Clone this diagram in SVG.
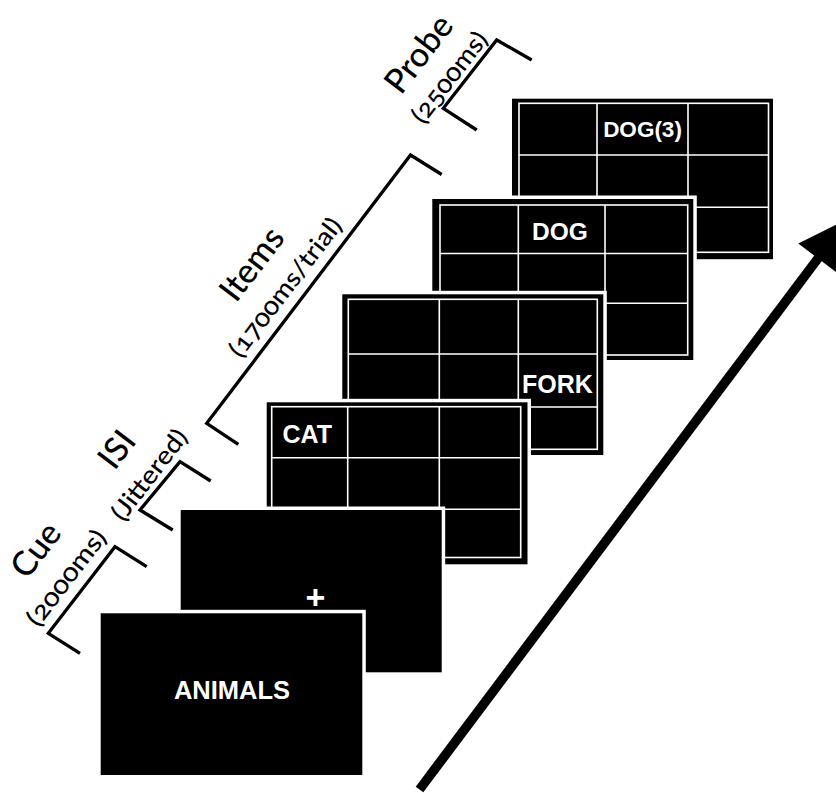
<svg xmlns="http://www.w3.org/2000/svg" width="836" height="793" viewBox="0 0 836 793">
<style>
.panel{fill:#000;stroke:#fff;stroke-width:7;paint-order:stroke}
.grid{fill:none;stroke:#fff;stroke-width:1.6}
.cell{font-family:"Liberation Sans",Arial,sans-serif;font-weight:bold;fill:#fff}
.br{fill:none;stroke:#000;stroke-width:3.3;stroke-linejoin:miter;stroke-linecap:butt}
.lbl{font-family:Lato,"Open Sans",sans-serif;font-weight:500;fill:#000;text-anchor:middle;font-variant-numeric:oldstyle-nums}
.big{font-size:34px}
.small{font-size:25px}
</style>
<rect width="836" height="793" fill="#fff"/>

<g id="probe-panel">
<rect class="panel" x="512" y="98.7" width="261" height="160.5"/>
<rect class="grid" x="519" y="103.3" width="249.5" height="149"/>
<path class="grid" d="M597 103.3V252.3M688 103.3V252.3M519 155H768.5M519 207.3H768.5"/>
<text class="cell" x="642.5" y="136.7" font-size="22.5" text-anchor="middle">DOG(3)</text>
</g>

<g id="dog-panel">
<rect class="panel" x="432.3" y="199" width="261" height="161"/>
<rect class="grid" x="440" y="205" width="247.7" height="150"/>
<path class="grid" d="M518.3 205V355M605 205V355M440 253.5H687.7M440 303.3H687.7"/>
<text class="cell" x="560" y="240" font-size="24.5" text-anchor="middle">DOG</text>
</g>

<g id="fork-panel">
<rect class="panel" x="342.3" y="294.3" width="261" height="160.7"/>
<rect class="grid" x="348.3" y="299.3" width="249" height="150"/>
<path class="grid" d="M439.3 299.3V449.3M518.3 299.3V449.3M348.3 354H597.3M348.3 407H597.3"/>
<text class="cell" x="557.5" y="392.7" font-size="25" text-anchor="middle">FORK</text>
</g>

<g id="cat-panel">
<rect class="panel" x="266.7" y="402.3" width="260.8" height="162"/>
<rect class="grid" x="271.7" y="406.7" width="249" height="150.8"/>
<path class="grid" d="M347.7 406.7V557.5M439.3 406.7V557.5M271.7 457.7H520.7M271.7 509.3H520.7"/>
<text class="cell" x="282.5" y="442.7" font-size="25">CAT</text>
</g>

<g id="fixation-panel">
<rect class="panel" x="180.7" y="510" width="261" height="162.3"/>
<text class="cell" x="315.5" y="609" font-size="34" text-anchor="middle">+</text>
</g>

<g id="cue-panel">
<rect class="panel" x="100.7" y="613.3" width="261.6" height="161.7"/>
<text class="cell" x="232" y="699" font-size="25.5" text-anchor="middle">ANIMALS</text>
</g>

<g id="brackets">
<polyline class="br" points="80,653.3 48.3,633.3 115,546.7 146.7,566.7"/>
<polyline class="br" points="172.7,530 140,510 180,461.7 210.7,481"/>
<polyline class="br" points="238.3,444.3 206.7,423.3 410.5,155 441.7,174.5"/>
<polyline class="br" points="476.7,130 443.3,108.3 496.7,40 531.7,60"/>
</g>

<g id="labels">
<text class="lbl big" transform="translate(45,557) rotate(-52.5)">Cue</text>
<text class="lbl small" transform="translate(73,583) rotate(-52.5)" textLength="114" lengthAdjust="spacingAndGlyphs">(2000ms)</text>
<text class="lbl big" transform="translate(126,456.5) rotate(-52.5)">ISI</text>
<text class="lbl small" transform="translate(156,480) rotate(-52.5)" textLength="108" lengthAdjust="spacingAndGlyphs">(Jittered)</text>
<text class="lbl big" transform="translate(261,271) rotate(-52.5)" font-size="37">Items</text>
<text class="lbl small" transform="translate(292,292.5) rotate(-52.5)" textLength="168" lengthAdjust="spacingAndGlyphs">(1700ms/trial)</text>
<text class="lbl big" transform="translate(428,61) rotate(-52.5)">Probe</text>
<text class="lbl small" transform="translate(456,82.5) rotate(-52.5)" textLength="108" lengthAdjust="spacingAndGlyphs">(2500ms)</text>
</g>

<g id="connectors">
<line x1="419.5" y1="789.5" x2="819" y2="257" stroke="#000" stroke-width="9.5"/>
<polygon points="847.3,219.1 837.5,273 798.3,243.6" fill="#000"/>
</g>
</svg>
